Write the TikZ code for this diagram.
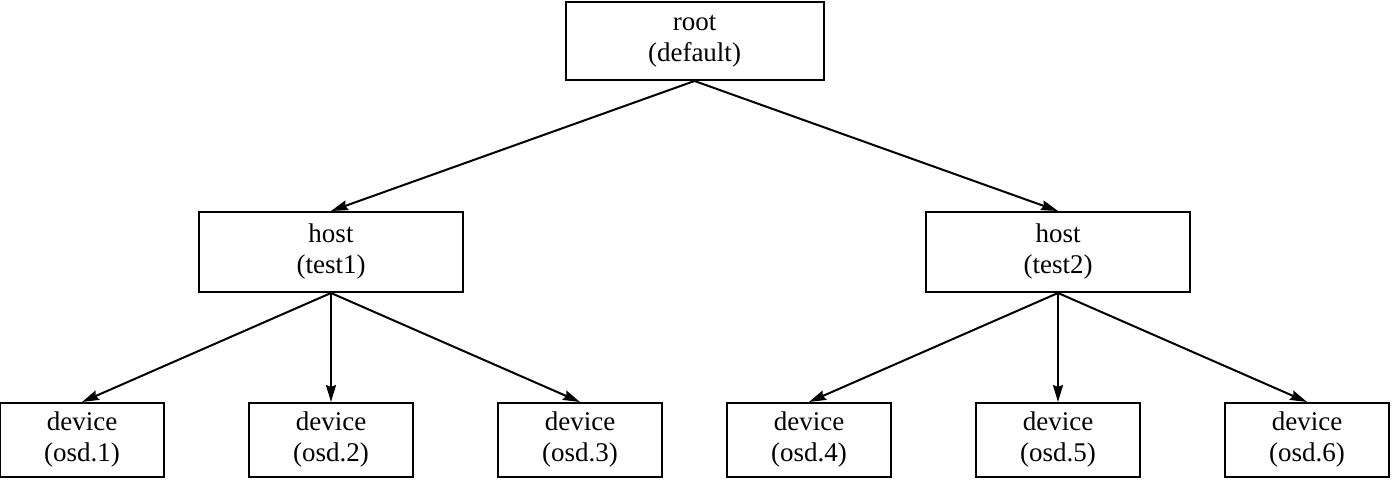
\documentclass[tikz,border=0pt]{standalone}
\usepackage{fontspec}
\setmainfont{Liberation Serif}
\usepackage{tikz}
\usetikzlibrary{arrows.meta}
\usetikzlibrary{trees}

\begin{document}
\begin{tikzpicture}[x=1pt,y=1pt,line width=2pt,
  every node/.style={draw,align=center,font=\fontsize{27}{31}\selectfont},
  parent anchor=south,child anchor=north,
  edge from parent/.style={draw,-{Stealth[length=17pt,width=10pt,inset=2pt]}},
  level 1/.style={level distance=211pt,sibling distance=727pt,
    every node/.append style={minimum width=264pt,minimum height=80pt}},
  level 2/.style={level distance=188pt,sibling distance=249pt,
    every node/.append style={minimum width=164pt,minimum height=74pt}}]
\useasboundingbox (0,0) rectangle (1400,488);
\node[minimum width=258pt,minimum height=78pt] (root) at (694.5,447) {root\\(default)}
  child {node (test1) {host\\(test1)}
    child {node (osd1) {device\\(osd.1)}}
    child {node (osd2) {device\\(osd.2)}}
    child {node (osd3) {device\\(osd.3)}}
  }
  child {node (test2) {host\\(test2)}
    child {node (osd4) {device\\(osd.4)}}
    child {node (osd5) {device\\(osd.5)}}
    child {node (osd6) {device\\(osd.6)}}
  };
\end{tikzpicture}
\end{document}
